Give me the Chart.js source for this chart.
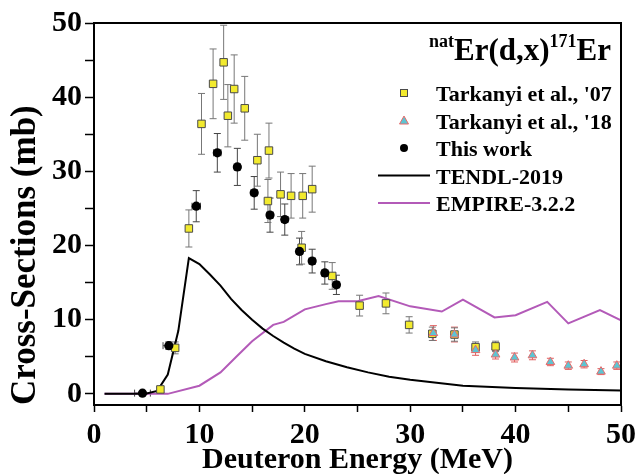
<!DOCTYPE html>
<html>
<head>
<meta charset="utf-8">
<script src="https://cdn.jsdelivr.net/npm/chart.js@4.4.1/dist/chart.umd.min.js"></script>
<style>
  body { margin: 0; background: #fff; }
  #xs_chart { display: block; }
</style>
</head>
<body>
<canvas id="xs_chart" width="638" height="474"></canvas>
<script>
const serif = "'Liberation Serif', 'Times New Roman', serif";

const seriesNames = [
  "Tarkanyi et al., '07",
  "Tarkanyi et al., '18",
  "This work",
  "TENDL-2019",
  "EMPIRE-3.2.2",
];

// tick positions (labels only on multiples of 10)
const xTicks = [0, 5, 10, 15, 20, 25, 30, 35, 40, 45, 50];
const yTicks = [0, 5, 10, 15, 20, 25, 30, 35, 40, 45, 50];

// Tarkanyi et al., '07 (yellow squares)
const t07E = [6.3, 7.7, 9.0, 10.2, 11.3, 12.3, 12.7, 13.3, 14.3, 15.5, 16.5, 16.6, 17.7,
  18.7, 19.7, 19.8, 20.7, 22.6, 25.2, 27.7, 29.9, 32.1, 34.2, 36.2, 38.1];
const t07Y = [0.6, 6.2, 22.3, 36.4, 41.8, 44.7, 37.5, 41.1, 38.5, 31.5, 26.0, 32.8, 26.9,
  26.7, 19.7, 26.7, 27.6, 15.9, 11.9, 12.2, 9.3, 8.1, 8.0, 6.3, 6.4];
const t07Err = [0.3, 0.8, 2.5, 4.1, 4.7, 5.0, 4.2, 4.6, 4.3, 3.5, 2.9, 3.7, 3.0,
  3.0, 2.2, 3.0, 3.1, 1.8, 1.4, 1.4, 1.1, 0.9, 0.9, 0.7, 0.7];

// Tarkanyi et al., '18 (cyan triangles)
const t18E = [32.2, 34.2, 36.2, 38.1, 39.9, 41.6, 43.3, 45.0, 46.5, 48.1, 49.6];
const t18Y = [8.2, 8.0, 5.9, 5.3, 4.9, 5.2, 4.3, 3.8, 4.0, 3.0, 3.8];
const t18Err = [1.0, 1.0, 0.7, 0.6, 0.6, 0.6, 0.5, 0.5, 0.5, 0.4, 0.5];

// This work (black circles)
const twE = [4.6, 7.1, 9.7, 11.7, 13.6, 15.2, 16.7, 18.1, 19.5, 20.7, 21.9, 23.0];
const twY = [0.1, 6.5, 25.3, 32.5, 30.6, 27.1, 24.1, 23.5, 19.2, 17.9, 16.3, 14.7];
const twErr = [0.1, 0.5, 2.1, 2.6, 2.5, 2.2, 2.3, 2.1, 1.8, 1.6, 1.5, 1.3];
const twXErr = [0.75, 0.55, 0.4, 0.35, 0.3, 0.3, 0.3, 0.3, 0.3, 0.3, 0.3, 0.3];

// TENDL-2019
const tendlE = [1, 2, 3, 4, 5, 6, 7, 8, 9, 10, 11, 12, 13, 14, 15, 16, 17, 18, 19, 20,
  22, 24, 26, 28, 30, 35, 40, 45, 50];
const tendlY = [0, 0, 0, 0, 0.05, 0.4, 2.6, 8.5, 18.3, 17.5, 16.1, 14.6, 12.8, 11.3, 10.0,
  8.8, 7.8, 6.9, 6.1, 5.4, 4.4, 3.6, 2.9, 2.3, 1.9, 1.1, 0.8, 0.6, 0.45];

// EMPIRE-3.2.2
const empireE = [1, 7, 10, 12, 13.5, 15, 17, 18, 20, 22, 23.2, 25, 27, 30, 33, 35, 38, 40,
  43, 45, 48, 50];
const empireY = [0, 0, 1.1, 2.9, 5.0, 7.1, 9.3, 9.7, 11.4, 12.1, 12.5, 12.5, 13.2, 11.8,
  11.1, 12.7, 10.3, 10.6, 12.4, 9.5, 11.3, 9.9];

const pts = (xs, ys) => xs.map((v, i) => ({ x: v, y: ys[i] }));

// error bars, drawn under the markers
const errorBars = {
  id: "errorBars",
  beforeDatasetsDraw(chart) {
    const { ctx, scales: { x, y } } = chart;
    chart.data.datasets.forEach((ds) => {
      if (!ds.yErr) return;
      ctx.save();
      ctx.strokeStyle = ds.errColor;
      ctx.lineWidth = 1;
      ds.data.forEach((p, j) => {
        const px = x.getPixelForValue(p.x);
        const py = y.getPixelForValue(p.y);
        const top = y.getPixelForValue(p.y + ds.yErr[j]);
        const bot = y.getPixelForValue(p.y - ds.yErr[j]);
        ctx.beginPath();
        ctx.moveTo(px, top);
        ctx.lineTo(px, bot);
        ctx.moveTo(px - 3.5, top);
        ctx.lineTo(px + 3.5, top);
        ctx.moveTo(px - 3.5, bot);
        ctx.lineTo(px + 3.5, bot);
        if (ds.xErr) {
          const l = x.getPixelForValue(p.x - ds.xErr[j]);
          const r = x.getPixelForValue(p.x + ds.xErr[j]);
          ctx.moveTo(l, py);
          ctx.lineTo(r, py);
          ctx.moveTo(l, py - 3.5);
          ctx.lineTo(l, py + 3.5);
          ctx.moveTo(r, py - 3.5);
          ctx.lineTo(r, py + 3.5);
        }
        ctx.stroke();
      });
      ctx.restore();
    });
  },
};

// frame, title and legend box
const decor = {
  id: "decor",
  afterDraw(chart) {
    const { ctx, chartArea: a } = chart;
    ctx.save();
    ctx.strokeStyle = "#000";
    ctx.lineWidth = 2;
    ctx.strokeRect(a.left, a.top, a.right - a.left, a.bottom - a.top);

    // reaction title
    const big = "bold 31px " + serif;
    const small = "bold 18px " + serif;
    const parts = [["nat", small, 47], ["Er(d,x)", big, 60], ["171", small, 47], ["Er", big, 60]];
    let w = 0;
    parts.forEach((p) => { ctx.font = p[1]; w += ctx.measureText(p[0]).width; });
    let tx = 611 - w;
    ctx.fillStyle = "#000";
    ctx.textBaseline = "alphabetic";
    parts.forEach((p) => {
      ctx.font = p[1];
      ctx.fillText(p[0], tx, p[2]);
      tx += ctx.measureText(p[0]).width;
    });

    // legend
    const rows = [93, 120.5, 148, 175.5, 203];
    ctx.font = "bold 22px " + serif;
    seriesNames.forEach((name, i) => {
      ctx.fillStyle = "#000";
      ctx.fillText(name, 436, rows[i] + 8);
    });
    const mx = 404;
    ctx.lineWidth = 1;
    ctx.fillStyle = "#f2ea2e";
    ctx.strokeStyle = "#4a4a4a";
    ctx.fillRect(mx - 3.5, rows[0] - 3.5, 7, 7);
    ctx.strokeRect(mx - 3.5, rows[0] - 3.5, 7, 7);
    ctx.beginPath();
    ctx.moveTo(mx, rows[1] - 4.5);
    ctx.lineTo(mx + 4.5, rows[1] + 3.5);
    ctx.lineTo(mx - 4.5, rows[1] + 3.5);
    ctx.closePath();
    ctx.fillStyle = "#5ec4d2";
    ctx.strokeStyle = "#e86a6a";
    ctx.fill();
    ctx.stroke();
    ctx.beginPath();
    ctx.arc(mx, rows[2], 4, 0, Math.PI * 2);
    ctx.fillStyle = "#000";
    ctx.fill();
    ctx.lineWidth = 2;
    ctx.strokeStyle = "#000";
    ctx.beginPath();
    ctx.moveTo(378, rows[3]);
    ctx.lineTo(430, rows[3]);
    ctx.stroke();
    ctx.strokeStyle = "#b35ab8";
    ctx.beginPath();
    ctx.moveTo(378, rows[4]);
    ctx.lineTo(430, rows[4]);
    ctx.stroke();
    ctx.restore();
  },
};

Chart.defaults.font.family = serif;
Chart.defaults.color = "#000";

new Chart(document.getElementById("xs_chart"), {
  type: "scatter",
  data: {
    datasets: [
      {
        label: seriesNames[1],
        data: pts(t18E, t18Y),
        yErr: t18Err,
        errColor: "#e06060",
        pointStyle: "triangle",
        pointRadius: 5,
        backgroundColor: "#5ec4d2",
        borderColor: "#e86a6a",
        borderWidth: 1,
      },
      {
        label: seriesNames[2],
        data: pts(twE, twY),
        yErr: twErr,
        xErr: twXErr,
        errColor: "#444",
        pointStyle: "circle",
        pointRadius: 4.6,
        backgroundColor: "#000",
        borderColor: "#000",
        borderWidth: 0,
      },
      {
        label: seriesNames[0],
        data: pts(t07E, t07Y),
        yErr: t07Err,
        errColor: "#777",
        pointStyle: "rect",
        pointRadius: 5.3,
        backgroundColor: "#f2ea2e",
        borderColor: "#4a4a4a",
        borderWidth: 1,
      },
      {
        label: seriesNames[3],
        data: pts(tendlE, tendlY),
        showLine: true,
        borderColor: "#000",
        borderWidth: 2,
        pointRadius: 0,
        tension: 0,
      },
      {
        label: seriesNames[4],
        data: pts(empireE, empireY),
        showLine: true,
        borderColor: "#b35ab8",
        borderWidth: 2,
        pointRadius: 0,
        tension: 0,
      },
    ],
  },
  options: {
    responsive: false,
    animation: false,
    layout: { padding: { top: 23, right: 17, left: 0, bottom: 0 } },
    plugins: {
      legend: { display: false },
      tooltip: { enabled: false },
    },
    scales: {
      x: {
        type: "linear",
        min: 0,
        max: 50,
        afterFit: (s) => {
          s.height = 69;
          s.paddingLeft = 0;
          s.paddingRight = 0;
        },
        afterBuildTicks: (s) => { s.ticks = xTicks.map((v) => ({ value: v })); },
        ticks: {
          padding: 5,
          maxRotation: 0,
          autoSkip: false,
          font: { size: 30, weight: "bold" },
          callback: (v) => (v % 10 === 0 ? v : ""),
        },
        grid: { drawOnChartArea: false, tickLength: 7, tickWidth: 1.5, tickColor: "#000" },
        border: { display: true, color: "#000", width: 2 },
        title: {
          display: true,
          text: "Deuteron Energy (MeV)",
          font: { size: 30, weight: "bold" },
          padding: { top: 0, bottom: -4 },
        },
      },
      y: {
        type: "linear",
        min: -1.5,
        max: 50,
        afterFit: (s) => {
          s.width = 94;
          s.paddingTop = 0;
          s.paddingBottom = 0;
        },
        afterBuildTicks: (s) => { s.ticks = yTicks.map((v) => ({ value: v })); },
        ticks: {
          padding: 3,
          autoSkip: false,
          font: { size: 30, weight: "bold" },
          callback: (v) => (v % 10 === 0 ? v : ""),
        },
        grid: { drawOnChartArea: false, tickLength: 9, tickWidth: 1.5, tickColor: "#000" },
        border: { display: true, color: "#000", width: 2 },
        title: {
          display: true,
          text: "Cross-Sections (mb)",
          align: "start",
          font: { size: 35, weight: "bold" },
          padding: { top: 5, bottom: 0 },
        },
      },
    },
  },
  plugins: [errorBars, decor],
});
</script>
</body>
</html>
